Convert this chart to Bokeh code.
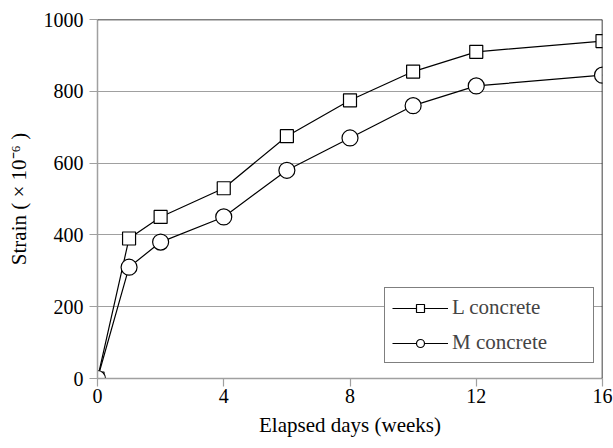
from bokeh.plotting import figure
from bokeh.models import FixedTicker, Span, Legend, LegendItem, ColumnDataSource
from bokeh.embed import file_html
from bokeh.resources import INLINE

weeks = [0, 1, 2, 4, 6, 8, 10, 12, 16]
l_concrete = [0, 390, 450, 530, 675, 775, 855, 910, 940]
m_concrete = [0, 310, 380, 450, 580, 670, 760, 815, 845]
x_ticks = [0, 4, 8, 12, 16]
y_ticks = [0, 200, 400, 600, 800, 1000]
series_names = ["L concrete", "M concrete"]

FONT = "Liberation Serif"
GRAY = "#a0a0a0"

p = figure(width=613, height=448, output_backend="svg", toolbar_location=None,
           x_range=(0, 16), y_range=(0, 1000),
           min_border_left=97, min_border_right=11, min_border_top=19, min_border_bottom=70)
p.outline_line_color = None
p.background_fill_color = "white"

src = ColumnDataSource(dict(x=weeks, l=l_concrete, m=m_concrete))

l_line = p.line("x", "l", source=src, line_color="black", line_width=1.2)
l_pts = p.scatter("x", "l", source=src, marker="square", size=13,
                  fill_color="white", line_color="black", line_width=1.2)
m_line = p.line("x", "m", source=src, line_color="black", line_width=1.2)
m_pts = p.scatter("x", "m", source=src, marker="circle", size=16,
                  fill_color="white", line_color="black", line_width=1.2)

# axes
p.xaxis.ticker = FixedTicker(ticks=x_ticks)
p.yaxis.ticker = FixedTicker(ticks=y_ticks)
for ax in (p.xaxis[0], p.yaxis[0]):
    ax.axis_line_color = GRAY
    ax.axis_line_width = 1.5
    ax.major_tick_line_color = GRAY
    ax.major_tick_line_width = 1.2
    ax.major_tick_out = 8
    ax.major_tick_in = 0
    ax.minor_tick_line_color = None
    ax.major_label_text_font = FONT
    ax.major_label_text_font_size = "20px"
    ax.major_label_text_color = "black"
    ax.major_label_text_font_style = "normal"
    ax.axis_label_text_font = FONT
    ax.axis_label_text_font_size = "21px"
    ax.axis_label_text_font_style = "normal"
    ax.axis_label_text_color = "black"
p.xaxis.axis_label = "Elapsed days (weeks)"
p.yaxis.axis_label = "Strain ( × 10⁻⁶ )"
p.xaxis.major_label_standoff = 2
p.yaxis.major_label_standoff = 6
p.xaxis.axis_label_standoff = 7
p.yaxis.axis_label_standoff = 10

p.xgrid.visible = False
p.ygrid.ticker = FixedTicker(ticks=y_ticks)
p.ygrid.grid_line_color = GRAY
p.ygrid.grid_line_width = 1.2

# black top and right border
p.add_layout(Span(location=1000, dimension="width", line_color="black", line_width=1.5))
p.add_layout(Span(location=16, dimension="height", line_color="black", line_width=1.5))

legend = Legend(items=[LegendItem(label=series_names[0], renderers=[l_line, l_pts]),
                       LegendItem(label=series_names[1], renderers=[m_line, m_pts])],
                location=(287, 15))
legend.border_line_color = "black"
legend.border_line_width = 1.2
legend.background_fill_alpha = 1
legend.label_text_font = FONT
legend.label_text_font_style = "normal"
legend.label_text_font_size = "21px"
legend.padding = 7
legend.spacing = 10
legend.glyph_width = 56
legend.glyph_height = 20
legend.label_height = 20
legend.label_width = 134
legend.label_standoff = 4
legend.margin = 0
p.add_layout(legend, "center")

open("out.html", "w").write(file_html(p, INLINE))
